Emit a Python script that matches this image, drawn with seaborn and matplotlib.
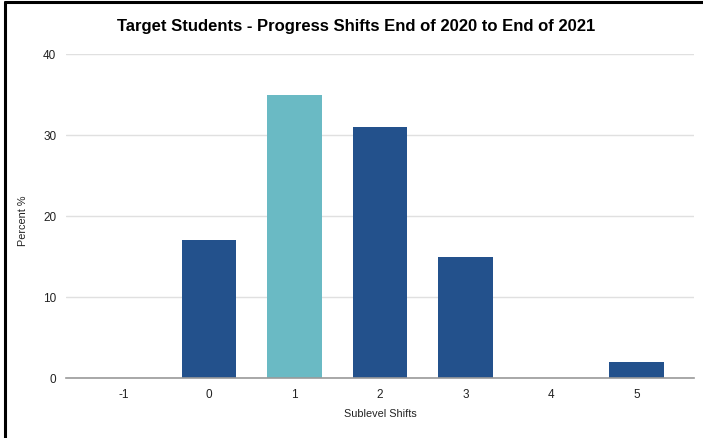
import matplotlib
matplotlib.use("Agg")
import matplotlib.pyplot as plt
from matplotlib.lines import Line2D
import seaborn as sns
import pandas as pd

# Data
shifts = ["-1", "0", "1", "2", "3", "4", "5"]
percent = [0, 17, 35, 31, 15, 0, 2]
highlight = ["1"]

dark_blue = "#23518c"
teal = "#6abac4"

df = pd.DataFrame({"shift": shifts, "percent": percent})
df["group"] = ["hi" if s in highlight else "base" for s in shifts]

sns.set_theme(style="white")
plt.rcParams["font.family"] = ["Liberation Sans", "DejaVu Sans"]

fig = plt.figure(figsize=(7.03, 4.39), dpi=100)
ax = fig.add_axes([66 / 703, 1 - 379 / 439, 628 / 703, 324 / 439])

sns.barplot(data=df, x="shift", y="percent", hue="group",
            palette={"base": dark_blue, "hi": teal}, order=shifts,
            dodge=False, width=0.64, legend=False, ax=ax, saturation=1,
            edgecolor="none", linewidth=0)

ax.set_xlim(-0.675, 6.675)
ax.set_ylim(0, 40)
ax.set_yticks([0, 10, 20, 30, 40])
ax.yaxis.grid(True, color="#e0e0e0", linewidth=1)
ax.set_axisbelow(True)
for side in ["top", "right", "left"]:
    ax.spines[side].set_visible(False)
ax.spines["bottom"].set_color("#9a9a9a")
ax.spines["bottom"].set_linewidth(1.2)
ax.tick_params(axis="both", length=0, labelsize=8.5, colors="#222222")
ax.tick_params(axis="y", pad=7)
ax.tick_params(axis="x", pad=7)

ax.set_xlabel("Sublevel Shifts", fontsize=7.8, color="#222222")
ax.xaxis.set_label_coords(0.5, -(409 - 379) / 324)
ax.set_ylabel("Percent %", fontsize=7.8, color="#222222")
ax.yaxis.set_label_coords(-(66 - 28) / 628, (379 - 221) / 324)

fig.text(356 / 703, 1 - 26 / 439,
         "Target Students - Progress Shifts End of 2020 to End of 2021",
         ha="center", va="center", fontsize=12, fontweight="bold",
         color="#000000")

# Frame edges along the top and left
fig.add_artist(Line2D([4.5 / 703, 4.5 / 703], [0, 1 - 2.5 / 439],
                      transform=fig.transFigure, color="black", linewidth=2.2))
fig.add_artist(Line2D([4.5 / 703, 1], [1 - 2.5 / 439, 1 - 2.5 / 439],
                      transform=fig.transFigure, color="black", linewidth=2.2))

fig.savefig("out.png", dpi=100)
